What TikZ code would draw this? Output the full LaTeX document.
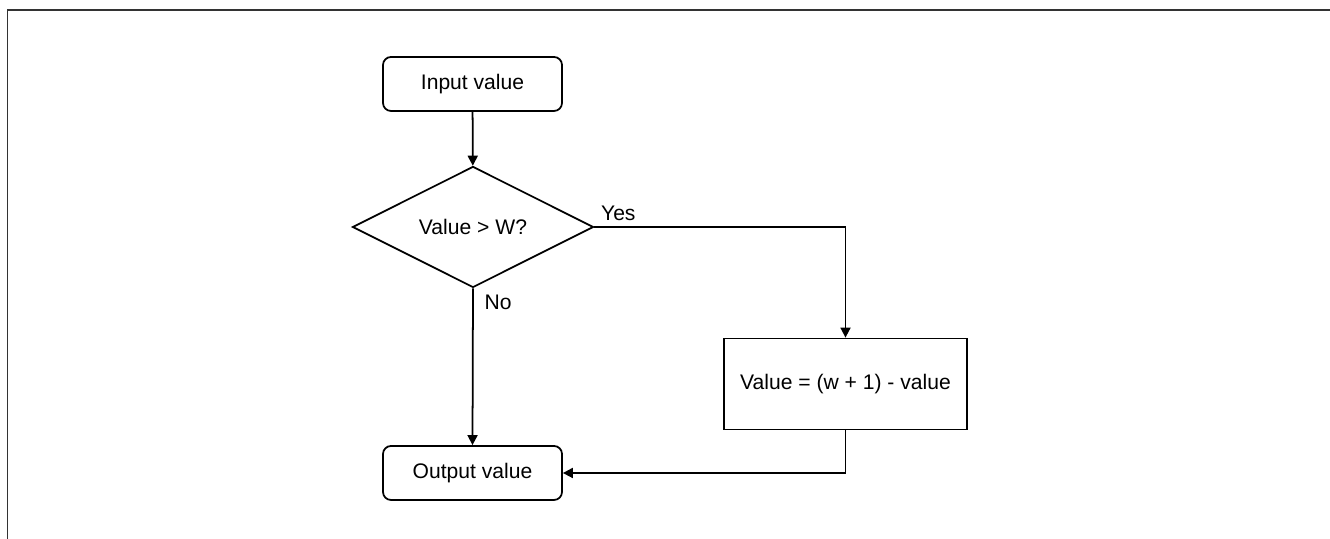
\documentclass[tikz,border=0pt]{standalone}
\usepackage{fontspec}
\setmainfont{Liberation Sans}
\usepackage{tikz}
\usetikzlibrary{shapes.geometric, arrows.meta, positioning, calc}

\begin{document}
\begin{tikzpicture}[font=\fontsize{12}{14}\selectfont, >={Triangle[length=0.2cm, width=0.2cm]}, line width=1pt,
    every node/.style={align=center},
    term/.style={draw, rounded corners=0.16cm, minimum width=3.58cm, minimum height=1.08cm},
    proc/.style={draw, minimum width=4.86cm, minimum height=1.82cm},
    decide/.style={draw, diamond, aspect=2, inner sep=0pt, minimum width=4.82cm, minimum height=2.42cm}]
    \useasboundingbox ({0},{0}) rectangle ({26.6},{10.78});
    \draw[black!80, line width=1.1pt] ({0.15},{0}) -- ({0.15},{10.58}) -- ({26.6},{10.58});

    \node[term] (input) at ({9.45},{9.10}) {Input value};
    \node[decide] (check) at ({9.46},{6.24}) {Value > W?};
    \node[proc] (flip) at ({16.91},{3.10}) {Value = (w + 1) - value};
    \node[term] (output) at ({9.45},{1.32}) {Output value};

    \draw[->] (input) -- (check);
    \draw[->] (check.east) -| (flip.north) node[pos=0, above right]{Yes};
    \draw[->] (check.south) -- (output.north) node[pos=0, below right, xshift=0.1cm]{No};
    \draw[->] (flip.south) |- (output.east);
\end{tikzpicture}
\end{document}
